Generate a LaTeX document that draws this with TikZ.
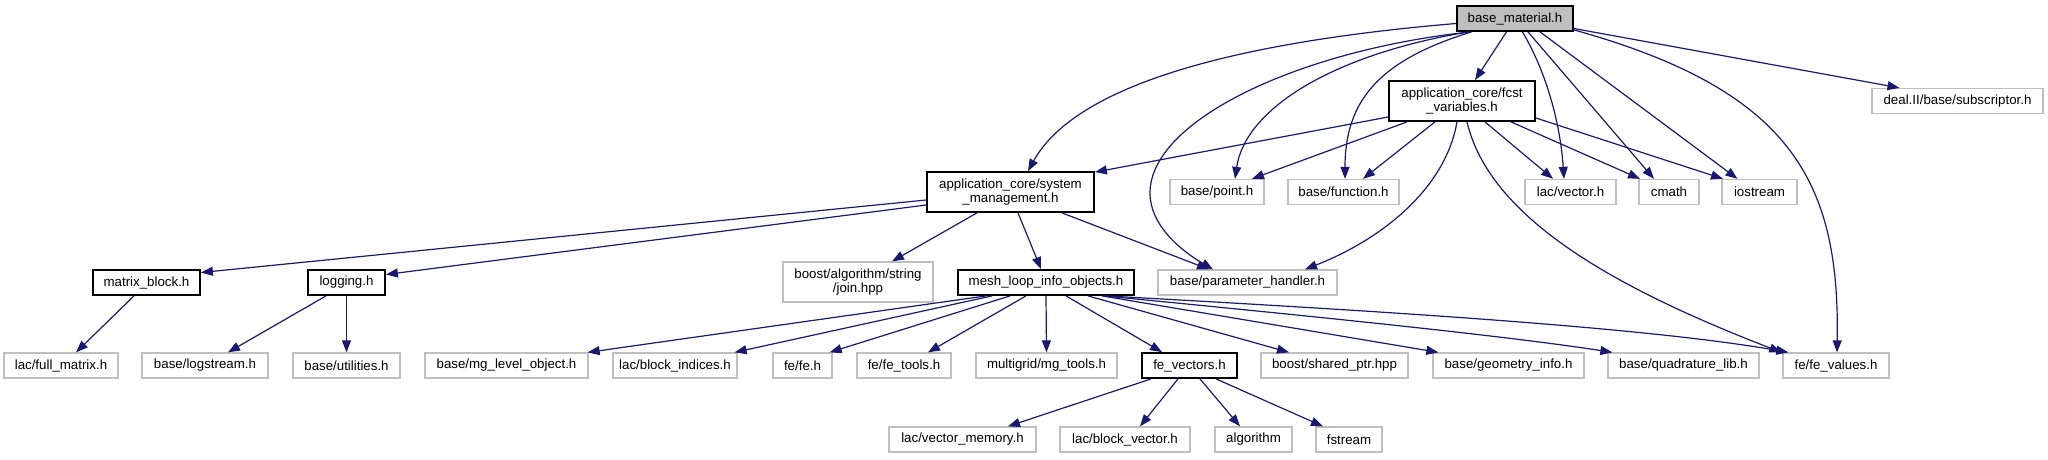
\documentclass[tikz,border=0pt]{standalone}
\usepackage{fontspec}
\setmainfont{Liberation Sans}
\usetikzlibrary{arrows.meta}
\definecolor{edgeblue}{HTML}{191970}
\definecolor{boxgray}{HTML}{BFBFBF}
\definecolor{fillgray}{HTML}{BFBFBF}
\begin{document}
\begin{tikzpicture}[x=1pt,y=-1pt,
 nd/.style={draw=boxgray, line width=1.3pt, inner sep=0pt, align=center, font=\fontsize{13.3}{14.5}\selectfont, minimum height=25pt},
 dn/.style={nd, draw=black, line width=1.8pt},
 two/.style={minimum height=40pt},
 edge/.style={draw=edgeblue, line width=1.2pt, -{Triangle[length=12pt,width=9pt]}}]
\useasboundingbox (0,0) rectangle (2048,459);
% row 0
\node[dn, fill=fillgray, minimum width=116pt] (bm) at (1515,18.5) {base\_material.h};
% row 1
\node[dn, two, minimum width=146pt] (fcst) at (1462,101) {application\_core/fcst\\\_variables.h};
\node[nd, minimum width=171pt] (deal) at (1957.5,101) {deal.II/base/subscriptor.h};
% row 2
\node[dn, two, minimum width=167pt] (sm) at (1010.5,192) {application\_core/system\\\_management.h};
\node[nd, minimum width=94pt] (point) at (1217,192) {base/point.h};
\node[nd, minimum width=111pt] (func) at (1343.5,192) {base/function.h};
\node[nd, minimum width=91pt] (lvec) at (1570.5,192) {lac/vector.h};
\node[nd, minimum width=60pt] (cmath) at (1669,192) {cmath};
\node[nd, minimum width=75pt] (iost) at (1759.5,192) {iostream};
% row 3
\node[dn, minimum width=107pt] (mb) at (146.5,282.5) {matrix\_block.h};
\node[dn, minimum width=77pt] (log) at (346.5,282.5) {logging.h};
\node[nd, two, minimum width=150pt] (join) at (858,282) {boost/algorithm/string\\/join.hpp};
\node[dn, minimum width=176pt] (mesh) at (1046,282.5) {mesh\_loop\_info\_objects.h};
\node[nd, minimum width=179pt] (param) at (1247.5,282.5) {base/parameter\_handler.h};
% row 4
\node[nd, minimum width=114pt] (fm) at (61,365.5) {lac/full\_matrix.h};
\node[nd, minimum width=126pt] (ls) at (205,365.5) {base/logstream.h};
\node[nd, minimum width=107pt] (ut) at (346.5,365.5) {base/utilities.h};
\node[nd, minimum width=163pt] (mg) at (506.5,365.5) {base/mg\_level\_object.h};
\node[nd, minimum width=124pt] (bi) at (675,365.5) {lac/block\_indices.h};
\node[nd, minimum width=59pt] (fe) at (802.5,365.5) {fe/fe.h};
\node[nd, minimum width=94pt] (fet) at (904,365.5) {fe/fe\_tools.h};
\node[nd, minimum width=141pt] (mgt) at (1046.5,365.5) {multigrid/mg\_tools.h};
\node[dn, minimum width=95pt] (fev) at (1189.5,365.5) {fe\_vectors.h};
\node[nd, minimum width=147pt] (sp) at (1334.5,365.5) {boost/shared\_ptr.hpp};
\node[nd, minimum width=151pt] (gi) at (1508.5,365.5) {base/geometry\_info.h};
\node[nd, minimum width=151pt] (ql) at (1683.5,365.5) {base/quadrature\_lib.h};
\node[nd, minimum width=106pt] (fvals) at (1836,365.5) {fe/fe\_values.h};
% row 5
\node[nd, minimum width=147pt] (vm) at (962.5,439.5) {lac/vector\_memory.h};
\node[nd, minimum width=130pt] (bv) at (1125,439.5) {lac/block\_vector.h};
\node[nd, minimum width=77pt] (alg) at (1253.5,439.5) {algorithm};
\node[nd, minimum width=66pt] (fs) at (1349,439.5) {fstream};

% edges from base_material
\draw[edge] ([yshift=-5pt]bm.west) .. controls (1200,45) and (1070,95) .. ([xshift=17.5pt]sm.north);
\draw[edge] ([xshift=-46.5pt]bm.south) .. controls (1330,55) and (1245,110) .. ([xshift=18pt]point.north);
\draw[edge] ([xshift=-43.5pt]bm.south) .. controls (1380,60) and (1345,100) .. ([xshift=1.5pt]func.north);
\coordinate (bmpk) at (1150,193);
\draw[edge] ([xshift=-44.5pt]bm.south) .. controls (1300,50) and (1150,120) .. (bmpk) .. controls (1150,225) and (1180,250) .. ([xshift=-34.5pt]param.north);
\draw[edge] ([xshift=-8.5pt]bm.south) -- ([xshift=13pt]fcst.north);
\draw[edge] ([xshift=7.5pt]bm.south) .. controls (1545,70) and (1560,120) .. ([xshift=-6.5pt]lvec.north);
\draw[edge] ([xshift=13pt]bm.south) -- ([xshift=-15pt]cmath.north);
\draw[edge] ([xshift=25pt]bm.south) -- ([xshift=-22pt]iost.north);
\draw[edge] ([yshift=2pt]bm.south east) .. controls (1790,90) and (1840,180) .. ([xshift=1pt]fvals.north);
\draw[edge] ([yshift=-10pt]bm.east) -- ([xshift=-58pt]deal.north);

% edges from fcst_variables
\draw[edge] ([yshift=-16pt]fcst.west) -- ([yshift=-1pt]sm.north east);
\draw[edge] ([xshift=-55pt]fcst.south) -- ([xshift=35pt]point.north);
\draw[edge] ([xshift=-27pt]fcst.south) -- ([xshift=19.5pt]func.north);
\draw[edge] ([xshift=-5pt]fcst.south) .. controls (1445,190) and (1380,240) .. ([xshift=57.5pt]param.north);
\draw[edge] ([xshift=5pt]fcst.south) .. controls (1490,220) and (1620,290) .. ([xshift=-1pt]fvals.north west);
\draw[edge] ([xshift=23pt]fcst.south) -- ([xshift=-17.5pt]lvec.north);
\draw[edge] ([xshift=49pt]fcst.south) -- ([xshift=-29pt]cmath.north);
\draw[edge] ([yshift=-17pt]fcst.east) -- ([xshift=-36.5pt]iost.north);

% edges from system_management
\draw[edge] ([yshift=-8pt]sm.west) -- ([yshift=10pt]mb.east);
\draw[edge] ([yshift=-13pt]sm.west) -- ([yshift=8pt]log.east);
\draw[edge] ([xshift=-33.5pt]sm.south) -- ([xshift=34pt]join.north);
\draw[edge] ([xshift=7.5pt]sm.south) -- ([xshift=-5pt]mesh.north);
\draw[edge] ([xshift=51.5pt]sm.south) -- ([xshift=-38.5pt]param.north);

% matrix_block, logging
\draw[edge] ([xshift=-12.5pt]mb.south) -- ([xshift=15pt]fm.north);
\draw[edge] ([xshift=-20.5pt]log.south) -- ([xshift=23pt]ls.north);
\draw[edge] (log.south) -- (ut.north);

% mesh_loop_info_objects
\draw[edge] ([xshift=-60pt]mesh.south) -- ([xshift=-1pt]mg.north east);
\draw[edge] ([xshift=-54pt]mesh.south) -- ([xshift=-3pt]bi.north east);
\draw[edge] ([xshift=-36pt]mesh.south) -- ([xshift=-3pt]fe.north east);
\draw[edge] ([xshift=-20pt]mesh.south) -- ([xshift=24pt]fet.north);
\draw[edge] (mesh.south) -- (mgt.north);
\draw[edge] ([xshift=20pt]mesh.south) -- ([xshift=-27.5pt]fev.north);
\draw[edge] ([xshift=42pt]mesh.south) -- ([xshift=-45.5pt]sp.north);
\draw[edge] ([xshift=56pt]mesh.south) -- ([xshift=6pt]gi.north west);
\draw[edge] ([xshift=58pt]mesh.south) .. controls (1300,315) and (1500,335) .. ([xshift=5pt]ql.north west);
\draw[edge] ([xshift=60pt]mesh.south) .. controls (1400,312) and (1650,328) .. ([xshift=6pt]fvals.north west);

% fe_vectors
\draw[edge] ([xshift=-38.5pt]fev.south) -- ([xshift=45.5pt]vm.north);
\draw[edge] ([xshift=-11.5pt]fev.south) -- ([xshift=15pt]bv.north);
\draw[edge] ([xshift=10.5pt]fev.south) -- ([xshift=-13.5pt]alg.north);
\draw[edge] ([xshift=26.5pt]fev.south) -- ([xshift=-26pt]fs.north);
\end{tikzpicture}
\end{document}
